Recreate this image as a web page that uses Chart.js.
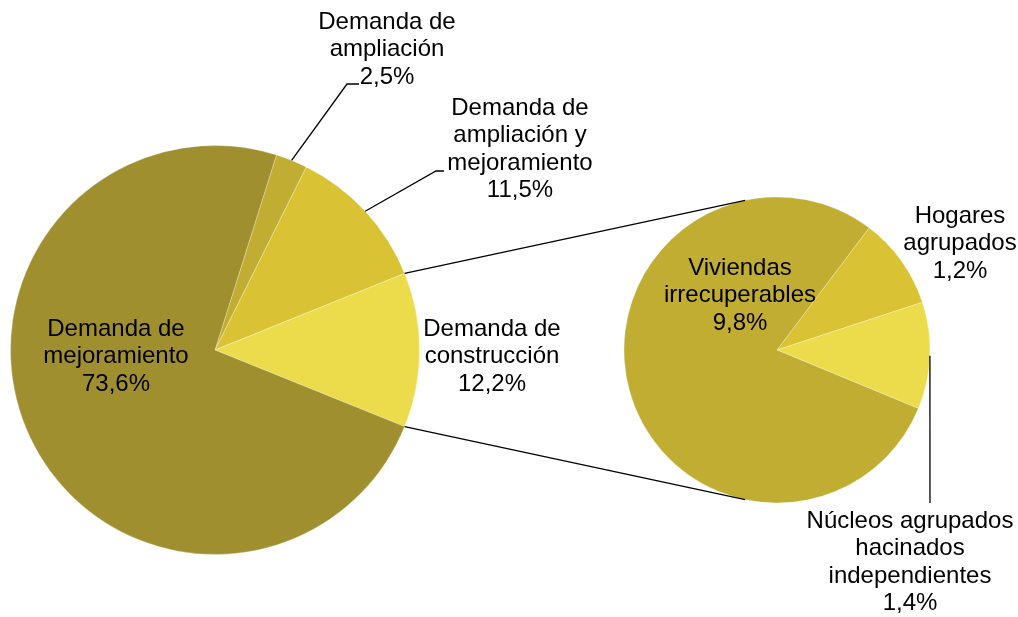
<!DOCTYPE html>
<html>
<head>
<meta charset="utf-8">
<script src="https://cdn.jsdelivr.net/npm/chart.js@4.4.0/dist/chart.umd.min.js"></script>
<style>
html, body { margin: 0; padding: 0; background: #fff; }
#wrap { position: relative; width: 1018px; height: 617px; overflow: hidden; }
#wrap canvas { position: absolute; }
</style>
</head>
<body>
<div id="wrap">
  <canvas id="mainPie" width="430" height="430" style="left:0px;top:135px"></canvas>
  <canvas id="detailPie" width="330" height="330" style="left:612px;top:185px"></canvas>
  <canvas id="overlay" width="1018" height="617" style="left:0px;top:0px"></canvas>
</div>
<script>
// Datos (pastel principal, en sentido horario)
const mainLabels = [
    ['Demanda de', 'ampliación'],
    ['Demanda de', 'ampliación y', 'mejoramiento'],
    ['Demanda de', 'construcción'],
    ['Demanda de', 'mejoramiento']
];
const mainValues = [2.5, 11.5, 12.2, 73.6];
const mainColors = ['#C1AD32', '#D9C334', '#ECDC4C', '#A08F2F'];
const splitIndex = 2; // Demanda de construcción se desglosa

// Datos (pastel secundario)
const detailLabels = [
    ['Hogares', 'agrupados'],
    ['Núcleos agrupados', 'hacinados', 'independientes'],
    ['Viviendas', 'irrecuperables']
];
const detailValues = [1.2, 1.4, 9.8];
const detailColors = ['#D9C334', '#ECDC4C', '#C1AD32'];

const FONT = '24px "Liberation Sans", Arial, sans-serif';
const LINE_H = 27.5;

function pct(v) {
    return v.toFixed(1).replace('.', ',') + '%';
}

// rotación para centrar el sector desglosado a las 3 en punto
const mainTotal = mainValues.reduce((a, b) => a + b, 0);
const before = mainValues.slice(0, splitIndex).reduce((a, b) => a + b, 0) + mainValues[splitIndex] / 2;
const mainRotation = 90 - before / mainTotal * 360;

function pieConfig(labels, values, colors, radius, rotation) {
    return {
        type: 'pie',
        data: {
            labels: labels.map(l => l.join(' ')),
            datasets: [{
                data: values,
                backgroundColor: colors,
                borderColor: 'rgba(255,255,255,0.35)',
                borderWidth: 0.8,
                radius: radius
            }]
        },
        options: {
            responsive: false,
            animation: false,
            rotation: rotation,
            layout: { padding: 0 },
            plugins: {
                legend: { display: false },
                tooltip: { enabled: false }
            }
        }
    };
}

const mainChart = new Chart(document.getElementById('mainPie'),
    pieConfig(mainLabels, mainValues, mainColors, 204.5, mainRotation));
const detailChart = new Chart(document.getElementById('detailPie'),
    pieConfig(detailLabels, detailValues, detailColors, 153, 37));

// Posición de las etiquetas (centro de la primera línea) y líneas guía
const labelLayout = [
    { chart: 'main', index: 3, x: 116, y: 329 },
    { chart: 'main', index: 0, x: 387, y: 22, leader: [[347, 84], [359, 84]] },
    { chart: 'main', index: 1, x: 520, y: 108, leader: [[436, 171], [444, 171]] },
    { chart: 'main', index: 2, x: 492, y: 329 },
    { chart: 'detail', index: 2, x: 740, y: 268 },
    { chart: 'detail', index: 0, x: 960, y: 216 },
    { chart: 'detail', index: 1, x: 910, y: 521, leader: [[930, 503]] }
];

function chartInfo(which) {
    if (which === 'main') {
        return { chart: mainChart, left: 0, top: 135, labels: mainLabels, values: mainValues };
    }
    return { chart: detailChart, left: 612, top: 185, labels: detailLabels, values: detailValues };
}

function arcPoint(info, arc, angle) {
    return {
        x: info.left + arc.x + Math.cos(angle) * arc.outerRadius,
        y: info.top + arc.y + Math.sin(angle) * arc.outerRadius
    };
}

function drawOverlay() {
    const ctx = document.getElementById('overlay').getContext('2d');
    ctx.strokeStyle = '#000';
    ctx.lineWidth = 1.3;

    // líneas de conexión entre los dos pasteles
    const mInfo = chartInfo('main');
    const dInfo = chartInfo('detail');
    const splitArc = mainChart.getDatasetMeta(0).data[splitIndex];
    const dArc = detailChart.getDatasetMeta(0).data[0];
    const joinAngle = 102 * Math.PI / 180;
    const p1 = arcPoint(mInfo, splitArc, splitArc.startAngle);
    const p2 = arcPoint(mInfo, splitArc, splitArc.endAngle);
    const q1 = arcPoint(dInfo, dArc, -joinAngle);
    const q2 = arcPoint(dInfo, dArc, joinAngle);
    ctx.beginPath();
    ctx.moveTo(p1.x, p1.y); ctx.lineTo(q1.x, q1.y);
    ctx.moveTo(p2.x, p2.y); ctx.lineTo(q2.x, q2.y);
    ctx.stroke();

    // etiquetas
    ctx.font = FONT;
    ctx.fillStyle = '#000';
    ctx.textAlign = 'center';
    ctx.textBaseline = 'middle';
    labelLayout.forEach(l => {
        const info = chartInfo(l.chart);
        const lines = info.labels[l.index].concat([pct(info.values[l.index])]);
        lines.forEach((t, i) => ctx.fillText(t, l.x, l.y + i * LINE_H));
        if (l.leader) {
            const arc = info.chart.getDatasetMeta(0).data[l.index];
            const mid = (arc.startAngle + arc.endAngle) / 2;
            const s = arcPoint(info, arc, mid);
            ctx.beginPath();
            ctx.moveTo(s.x, s.y);
            l.leader.forEach(p => ctx.lineTo(p[0], p[1]));
            ctx.stroke();
        }
    });
}

drawOverlay();
</script>
</body>
</html>
